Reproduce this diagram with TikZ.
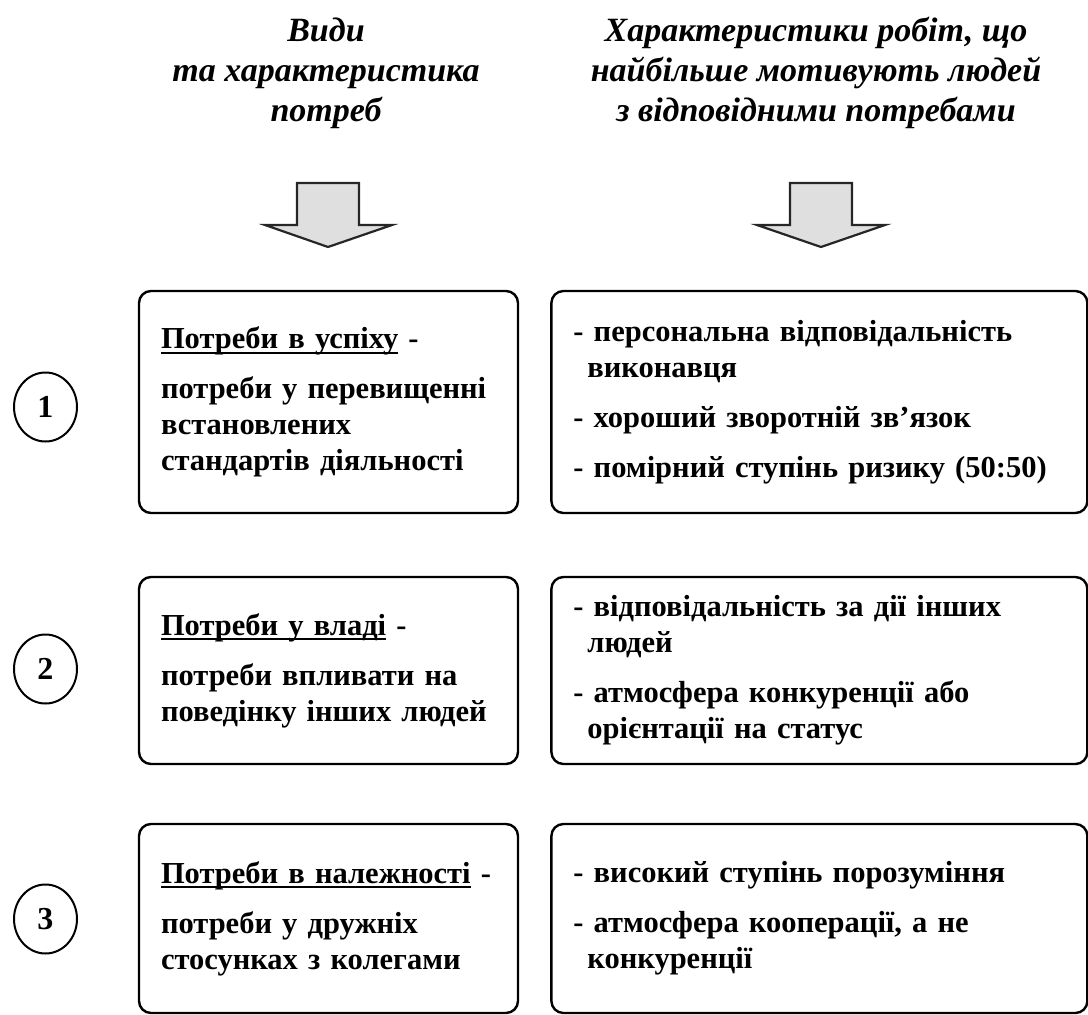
\documentclass[tikz,border=0pt]{standalone}
\usepackage{fontspec}
\setmainfont{Liberation Serif}
\newcommand{\needul}[1]{\setbox0\hbox{#1}\rlap{\rule[-5pt]{\wd0}{1.8pt}}\box0\relax}
\usetikzlibrary{shapes.geometric,positioning}

\begin{document}
\begin{tikzpicture}[
	x=1pt, y=-1pt, thick,
	head/.style={font=\fontsize{34}{40}\selectfont\bfseries\itshape, align=center},
	needbox/.style={draw, line width=2.4pt, rounded corners=12pt, inner xsep=22pt, text width=335pt, align=left, font=\fontsize{30.5}{36}\selectfont\bfseries},
	jobbox/.style={needbox, text width=492pt},
	num/.style={ellipse, draw, line width=2pt, minimum width=63pt, minimum height=69pt, inner sep=0pt, font=\fontsize{32}{36}\selectfont\bfseries},
	bigarrow/.style={draw=black!85, fill=gray!25, line width=2.2pt}
	]
	\useasboundingbox (0,0) rectangle (1088,1015);

	% headers
	\node [head] (hneed) at (326,73) {Види\\та характеристика\\потреб};
	\node [head] (hjob) at (816,73) {Характеристики робіт, що\\найбільше мотивують людей\\з відповідними потребами};

	% block arrows
	\filldraw [bigarrow] (297,183) -- (359,183) -- (359,225) -- (392,225) -- (328,247) -- (265,225) -- (297,225) -- cycle;
	\filldraw [bigarrow] (790,183) -- (852,183) -- (852,225) -- (885,225) -- (821,247) -- (757,225) -- (790,225) -- cycle;

	% needs
	\node [needbox, minimum height=222pt] (need1) at (328.5,402) {\needul{Потреби в успіху} -\\[14pt]потреби у перевищенні\\встановлених\\стандартів діяльності};
	\node [needbox, minimum height=187pt] (need2) at (328.5,670.5) {\needul{Потреби у владі} -\\[14pt]потреби впливати на\\поведінку інших людей};
	\node [needbox, minimum height=189pt] (need3) at (328.5,918.5) {\needul{Потреби в належності} -\\[14pt]потреби у дружніх\\стосунках з колегами};

	% jobs
	\node [jobbox, minimum height=222pt, right=31pt of need1] (job1) {- персональна відповідальність\\\hspace*{14pt}виконавця\\[14pt]- хороший зворотній зв’язок\\[14pt]- помірний ступінь ризику (50:50)};
	\node [jobbox, minimum height=187pt, right=31pt of need2] (job2) {- відповідальність за дії інших\\\hspace*{14pt}людей\\[14pt]- атмосфера конкуренції або\\\hspace*{14pt}орієнтації на статус};
	\node [jobbox, minimum height=189pt, right=31pt of need3] (job3) {- високий ступінь порозуміння\\[14pt]- атмосфера кооперації, а не\\\hspace*{14pt}конкуренції};

	% numbers
	\node [num] (n1) at (45.5,407) {1};
	\node [num] (n2) at (45.5,669) {2};
	\node [num] (n3) at (45.5,919) {3};
\end{tikzpicture}
\end{document}
